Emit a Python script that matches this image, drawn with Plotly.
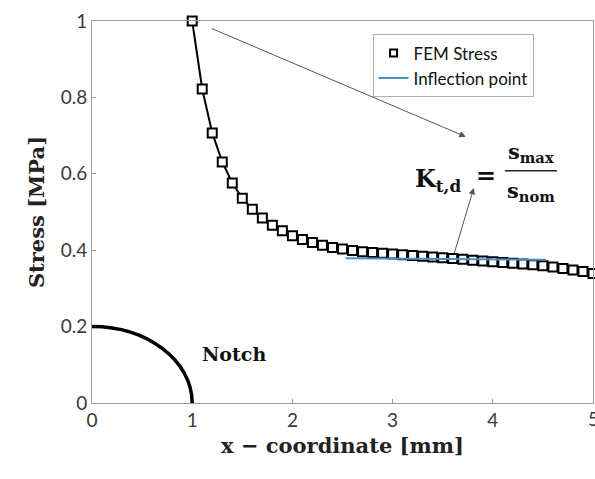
import plotly.graph_objects as go

# FEM stress along the x-coordinate ahead of the notch
x_fem = [1.0, 1.1, 1.2, 1.3, 1.4, 1.5, 1.6, 1.7, 1.8, 1.9,
         2.0, 2.1, 2.2, 2.3, 2.4, 2.5, 2.6, 2.7, 2.8, 2.9,
         3.0, 3.1, 3.2, 3.3, 3.4, 3.5, 3.6, 3.7, 3.8, 3.9,
         4.0, 4.1, 4.2, 4.3, 4.4, 4.5, 4.6, 4.7, 4.8, 4.9, 5.0]
stress_fem = [1.000, 0.822, 0.707, 0.631, 0.576, 0.536, 0.507, 0.484, 0.465, 0.451,
              0.438, 0.428, 0.420, 0.413, 0.407, 0.403, 0.399, 0.396, 0.394, 0.392,
              0.390, 0.388, 0.386, 0.384, 0.382, 0.380, 0.378, 0.376, 0.374, 0.372,
              0.370, 0.368, 0.366, 0.364, 0.362, 0.359, 0.356, 0.352, 0.348, 0.344, 0.339]

# Tangent at the inflection point
x_infl = [2.53, 4.53]
stress_infl = [0.379, 0.375]

# Notch outline: quarter ellipse with these semi-axes
notch_a = 1.0
notch_b = 0.2

x_ticks = [0, 1, 2, 3, 4, 5]
y_ticks = [0, 0.2, 0.4, 0.6, 0.8, 1]

serif = "DejaVu Serif"
sans = "Lato"
axis_grey = "#9a9a9a"
tick_col = "#3a3a3a"

fig = go.Figure()

fig.add_trace(go.Scatter(
    x=x_fem, y=stress_fem, mode="lines+markers", name="FEM Stress",
    line=dict(color="black", width=2),
    marker=dict(symbol="square", size=9, color="white", line=dict(width=2, color="black")),
    cliponaxis=False, showlegend=False,
))
# legend entry for the FEM points (marker only)
fig.add_trace(go.Scatter(
    x=[None], y=[None], mode="markers", name="FEM Stress",
    marker=dict(symbol="square-open", size=7, color="black", line=dict(width=2)),
))
fig.add_trace(go.Scatter(
    x=x_infl, y=stress_infl, mode="lines", name="Inflection point",
    line=dict(color="#4a90c4", width=2),
))

# Bezier approximation of the quarter ellipse for the notch
k = 0.5523
fig.add_shape(
    type="path", xref="x", yref="y",
    path=(f"M 0,{notch_b} C {k*notch_a},{notch_b} {notch_a},{k*notch_b} {notch_a},0"),
    line=dict(color="black", width=3.5),
)

fig.add_annotation(x=1.08, y=0.128, text="<b>Notch</b>", showarrow=False,
                   xanchor="left", font=dict(family=serif, size=19, color="#111"))

# Arrows pointing at the stress concentration formula
arrow_col = "#555555"
fig.add_annotation(x=3.73, y=0.697, ax=1.18, ay=0.982, xref="x", yref="y",
                   axref="x", ayref="y", text="", showarrow=True,
                   arrowhead=2, arrowsize=1.3, arrowwidth=1, arrowcolor=arrow_col)
fig.add_annotation(x=3.81, y=0.563, ax=3.61, ay=0.387, xref="x", yref="y",
                   axref="x", ayref="y", text="", showarrow=True,
                   arrowhead=2, arrowsize=1.3, arrowwidth=1, arrowcolor=arrow_col)

# Formula K_t,d = s_max / s_nom
fig.add_annotation(x=3.20, y=0.585, text="<b>K<sub>t,d</sub></b>", showarrow=False,
                   xanchor="left", font=dict(family=serif, size=24, color="#111"))
fig.add_annotation(x=3.93, y=0.595, text="<b>=</b>", showarrow=False,
                   font=dict(family=serif, size=24, color="#111"))
fig.add_annotation(x=4.38, y=0.655, text="<b>s<sub>max</sub></b>", showarrow=False,
                   font=dict(family=serif, size=21, color="#111"))
fig.add_annotation(x=4.38, y=0.553, text="<b>s<sub>nom</sub></b>", showarrow=False,
                   font=dict(family=serif, size=21, color="#111"))
fig.add_shape(type="line", xref="x", yref="y", x0=4.12, x1=4.64, y0=0.608, y1=0.608,
              line=dict(color="#222", width=1.5))

# last x tick label sits on the figure edge, drawn by hand so it is not dropped
fig.add_annotation(x=x_ticks[-1], y=0, xref="x", yref="paper", yanchor="top",
                   yshift=-2, text=str(x_ticks[-1]), showarrow=False,
                   font=dict(family=sans, size=19, color=tick_col))

fig.update_layout(
    width=595, height=479,
    margin=dict(l=92, r=2, t=21, b=76),
    paper_bgcolor="white", plot_bgcolor="white",
    showlegend=True,
    legend=dict(x=0.56, y=0.965, xanchor="left", yanchor="top",
                bgcolor="white", bordercolor="#b0b0b0", borderwidth=1,
                font=dict(family=sans, size=17, color="#111"),
                itemwidth=30, tracegroupgap=0),
    xaxis=dict(range=[0, 5], tickvals=x_ticks[:-1], ticktext=[str(v) for v in x_ticks[:-1]],
               showgrid=False, zeroline=False, showline=True, linecolor=axis_grey,
               linewidth=1, mirror=True, ticks="inside", ticklen=4, tickcolor=axis_grey,
               tickfont=dict(family=sans, size=19, color=tick_col),
               title=dict(text="<b>x − coordinate [mm]</b>", standoff=8,
                          font=dict(family=serif, size=21, color="#222"))),
    yaxis=dict(range=[0, 1], tickvals=y_ticks,
               ticktext=["0", "0.2", "0.4", "0.6", "0.8", "1"],
               showgrid=False, zeroline=False, showline=True, linecolor=axis_grey,
               linewidth=1, mirror=True, ticks="inside", ticklen=4, tickcolor=axis_grey,
               tickfont=dict(family=sans, size=19, color=tick_col),
               title=dict(text="<b>Stress [MPa]</b>", standoff=10,
                          font=dict(family=serif, size=21, color="#222"))),
)

fig.write_html("out.html")
